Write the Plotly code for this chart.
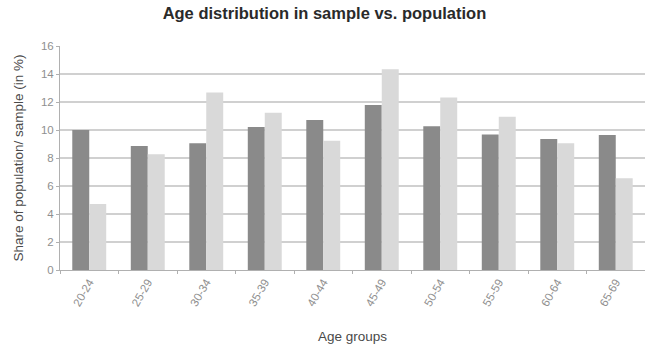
import plotly.graph_objects as go

# Age groups and shares (in %) for the two compared groups
age_groups = ["20-24", "25-29", "30-34", "35-39", "40-44",
              "45-49", "50-54", "55-59", "60-64", "65-69"]
population_share = [10.0, 8.86, 9.05, 10.21, 10.71, 11.78, 10.26, 9.67, 9.36, 9.64]
sample_share = [4.72, 8.27, 12.68, 11.23, 9.24, 14.34, 12.32, 10.95, 9.05, 6.56]
y_ticks = [0, 2, 4, 6, 8, 10, 12, 14, 16]

FONT = "Liberation Sans, Arial, Helvetica, sans-serif"
GRID = "#d0d0d0"
TICK_COLOR = "#8f8f8f"

fig = go.Figure()
fig.add_trace(go.Bar(
    x=age_groups, y=population_share, name="Population",
    marker=dict(color="#8a8a8a", line=dict(width=0)),
))
fig.add_trace(go.Bar(
    x=age_groups, y=sample_share, name="Sample",
    marker=dict(color="#d9d9d9", line=dict(width=0)),
))

fig.update_layout(
    width=645, height=351,
    margin=dict(l=60, r=0, t=46, b=81),
    paper_bgcolor="white", plot_bgcolor="white",
    barmode="group", bargap=0.42, bargroupgap=0.0,
    showlegend=False,
    font=dict(family=FONT, color="#555555"),
    title=dict(
        text="<b>Age distribution in sample vs. population</b>",
        x=0.503, xanchor="center", y=0.962, yanchor="middle",
        font=dict(family=FONT, size=16.5, color="#2a2a2a"),
    ),
)

fig.update_xaxes(
    type="category",
    tickangle=-60,
    tickfont=dict(family=FONT, size=11.5, color=TICK_COLOR),
    ticks="outside", tickson="boundaries", ticklen=3, tickcolor="#b0b0b0",
    showline=True, linecolor="#b0b0b0", linewidth=1,
    showgrid=False,
    automargin=False,
    title=dict(text="Age groups", font=dict(family=FONT, size=13.5, color="#4a4a4a"), standoff=24),
)

fig.update_yaxes(
    range=[0, 16], tickvals=y_ticks,
    tickfont=dict(family=FONT, size=11.5, color=TICK_COLOR),
    ticks="outside", ticklen=3, tickcolor="#b0b0b0",
    showline=True, linecolor="#b0b0b0", linewidth=1,
    showgrid=True, gridcolor=GRID, gridwidth=1.5,
    zeroline=False,
    automargin=False,
    title=dict(text="Share of population/ sample (in %)",
               font=dict(family=FONT, size=13.5, color="#4a4a4a"), standoff=14),
)

fig.write_html("out.html")
